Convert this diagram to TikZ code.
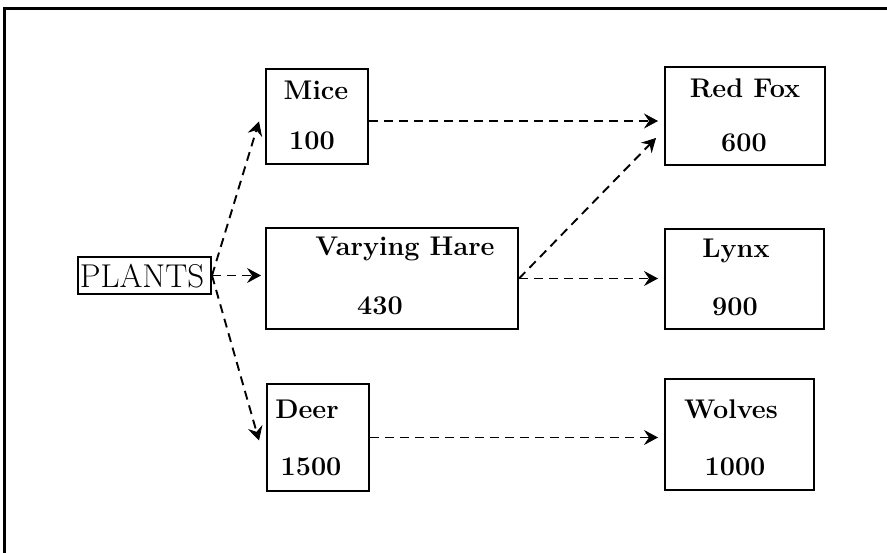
\documentclass[tikz,border=0pt]{standalone}
\usepackage{fontspec}
\usetikzlibrary{arrows.meta,calc}
\begin{document}
\begin{tikzpicture}[x=1pt,y=-1pt,
  box/.style={draw,line width=2pt,inner sep=0pt,anchor=north west},
  lbl/.style={font=\fontsize{27}{30}\selectfont\bfseries,inner sep=0pt},
  flow/.style={line width=1.9pt,dash pattern=on 9pt off 6pt,-{Stealth[length=14pt,width=15pt,inset=5pt,line width=0.8pt]}}
]
\useasboundingbox (0,0) rectangle (887,553);
\draw[line width=3pt] (4,553) -- (4,9) -- (887,9);
% boxes
\node[box,minimum width=133pt,minimum height=37pt] (plants) at (77,256) {};
\node[font=\fontsize{33}{36}\selectfont,inner sep=0pt] (plantsT) at (142,276) {PLANTS};
\node[box,minimum width=102pt,minimum height=95pt] (mice) at (265,68) {};
\node[box,minimum width=252pt,minimum height=101pt] (hare) at (265,227) {};
\node[box,minimum width=102pt,minimum height=107pt] (deer) at (266,383) {};
\node[box,minimum width=160pt,minimum height=98pt] (fox) at (664,66) {};
\node[box,minimum width=159pt,minimum height=100pt] (lynx) at (664,228) {};
\node[box,minimum width=149pt,minimum height=111pt] (wolves) at (664,378) {};
% texts
\node[lbl] (miceA) at (316,90) {Mice};
\node[lbl] (miceB) at (312,141) {100};
\node[lbl] (hareA) at (405,249) {Varying Hare};
\node[lbl] (hareB) at (380,306) {430};
\node[lbl] (deerA) at (307,409) {Deer};
\node[lbl] (deerB) at (311,467) {1500};
\node[lbl] (foxA) at (745,88) {Red Fox};
\node[lbl] (foxB) at (744,143) {600};
\node[lbl] (lynxA) at (736,251) {Lynx};
\node[lbl] (lynxB) at (735,307) {900};
\node[lbl] (wolvesA) at (731,409) {Wolves};
\node[lbl] (wolvesB) at (735,467) {1000};
% connector end points
\coordinate (mfA) at ($(mice.east)+(0,-4.5pt)$);
\coordinate (mfB) at (mfA -| fox.west);
% connectors
\draw[flow] (plants.east) -- ([xshift=-6pt,yshift=-5pt]mice.west);
\draw[flow] (plants.east) -- ([xshift=-4pt]plants.east -| hare.west);
\draw[flow] (plants.east) -- ([xshift=-7pt,yshift=-3pt]deer.west);
\draw[flow] (mfA) -- ([xshift=-6pt]mfB);
\draw[flow] (hare.east) -- ([xshift=-8pt,yshift=-22pt]fox.west);
\draw[flow] (hare.east) -- ([xshift=-6pt]hare.east -| lynx.west);
\draw[flow] (deer.east) -- ([xshift=-6pt]deer.east -| wolves.west);
\end{tikzpicture}
\end{document}
